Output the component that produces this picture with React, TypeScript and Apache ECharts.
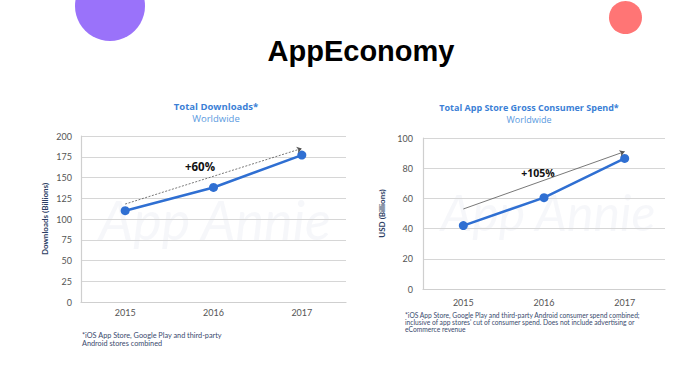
import React, { useEffect, useRef } from "react";
import * as echarts from "echarts";

const years = ["2015", "2016", "2017"];
const downloads = [110, 138, 177];
const spend = [42, 60.5, 86.5];
const downloadsTrend = [118, 185];
const spendTrend = [53, 91];
const downloadsTicks = { min: 0, max: 200, interval: 25 };
const spendTicks = { min: 0, max: 100, interval: 20 };

const BLUE = "#2f6fd2";
const FONT = "Lato, 'Open Sans', sans-serif";
const TFONT = "'Open Sans', Lato, sans-serif";

export default function App() {
  const ref = useRef<HTMLDivElement>(null);
  useEffect(() => {
    if (!ref.current) return;
    const chart = echarts.init(ref.current, undefined, { renderer: "svg" });
    const axisLabel = { color: "#555", fontSize: 9, fontFamily: FONT };
    const gridLine = { show: true, lineStyle: { color: "#d6d6d6", width: 1.2 } };
    const axisLine = { show: true, lineStyle: { color: "#cfcfcf", width: 1.2 } };
    const nameStyle = { color: "#2b3d63", fontSize: 8, fontWeight: "bold" as const, fontFamily: FONT };
    const trendLine = (from: number, to: number, dashed: boolean) => ({
      silent: true,
      symbol: ["none", "arrow"],
      symbolSize: 5,
      label: { show: false },
      lineStyle: { color: "#555", width: 0.8, type: dashed ? [2, 1.5] : "solid" },
      data: [[{ coord: [years[0], from] }, { coord: [years[2], to] }]],
    });
    chart.setOption({
      animation: false,
      backgroundColor: "#ffffff",
      grid: [
        { left: 81, top: 136, width: 265, height: 166 },
        { left: 423, top: 138, width: 242, height: 151 },
      ],
      xAxis: [0, 1].map((i) => ({
        type: "category",
        gridIndex: i,
        data: years,
        boundaryGap: true,
        axisTick: { show: false },
        axisLine,
        axisLabel: { ...axisLabel, margin: i === 0 ? 6 : 9 },
      })),
      yAxis: [
        {
          type: "value",
          gridIndex: 0,
          ...downloadsTicks,
          axisLine,
          splitLine: gridLine,
          axisTick: { show: false },
          axisLabel: { ...axisLabel, margin: 9 },
          name: "Downloads (Billions)",
          nameLocation: "middle",
          nameGap: 32,
          nameTextStyle: nameStyle,
        },
        {
          type: "value",
          gridIndex: 1,
          ...spendTicks,
          axisLine,
          splitLine: gridLine,
          axisTick: { show: false },
          axisLabel: { ...axisLabel, margin: 10 },
          name: "USD (Billions)",
          nameLocation: "middle",
          nameGap: 37,
          nameTextStyle: nameStyle,
        },
      ],
      series: [
        {
          type: "line",
          xAxisIndex: 0,
          yAxisIndex: 0,
          data: downloads,
          symbol: "circle",
          symbolSize: 9,
          lineStyle: { color: BLUE, width: 2.5 },
          itemStyle: { color: BLUE },
          markLine: trendLine(downloadsTrend[0], downloadsTrend[1], true),
        },
        {
          type: "line",
          xAxisIndex: 1,
          yAxisIndex: 1,
          data: spend,
          symbol: "circle",
          symbolSize: 9,
          lineStyle: { color: BLUE, width: 2.5 },
          itemStyle: { color: BLUE },
          markLine: trendLine(spendTrend[0], spendTrend[1], false),
        },
      ],
      graphic: [
        { type: "circle", shape: { cx: 110, cy: 6, r: 35 }, style: { fill: "#9a72fa" }, z: -1 },
        { type: "circle", shape: { cx: 625.5, cy: 17.5, r: 16.5 }, style: { fill: "#ff7575" }, z: -1 },
        {
          type: "text",
          x: 361,
          y: 51,
          style: {
            text: "AppEconomy",
            font: "bold 29px 'Liberation Sans', Arial, sans-serif",
            fill: "#000",
            align: "center",
            verticalAlign: "middle",
          },
        },
        { type: "text", x: 215, y: 219, z: -1, style: { text: "App Annie", font: "italic 54px " + FONT, fill: "rgba(200,208,222,0.16)", align: "center", verticalAlign: "middle" } },
        { type: "text", x: 548, y: 212, z: -1, style: { text: "App Annie", font: "italic 50px " + FONT, fill: "rgba(200,208,222,0.16)", align: "center", verticalAlign: "middle" } },
        { type: "text", x: 216, y: 106, style: { text: "Total Downloads*", font: "bold 9.5px " + TFONT, fill: "#3c7fd6", align: "center", verticalAlign: "middle" } },
        { type: "text", x: 216, y: 118, style: { text: "Worldwide", font: "9.5px " + TFONT, fill: "#5a9ae0", align: "center", verticalAlign: "middle" } },
        { type: "text", x: 529, y: 107, style: { text: "Total App Store Gross Consumer Spend*", font: "bold 9px " + TFONT, fill: "#3c7fd6", align: "center", verticalAlign: "middle" } },
        { type: "text", x: 529, y: 119, style: { text: "Worldwide", font: "9px " + TFONT, fill: "#5a9ae0", align: "center", verticalAlign: "middle" } },
        { type: "text", x: 200, y: 166, style: { text: "+60%", font: "bold 11.5px " + TFONT, fill: "#111", align: "center", verticalAlign: "middle" } },
        { type: "text", x: 538, y: 173, style: { text: "+105%", font: "bold 10.5px " + TFONT, fill: "#111", align: "center", verticalAlign: "middle" } },
        {
          type: "text",
          x: 82,
          y: 331,
          style: {
            text: "*iOS App Store, Google Play and third-party\nAndroid stores combined",
            font: "7.3px " + FONT,
            lineHeight: 8,
            fill: "#3a4a6e",
            align: "left",
            verticalAlign: "top",
          },
        },
        {
          type: "text",
          x: 405,
          y: 311,
          style: {
            text: "*iOS App Store, Google Play and third-party Android consumer spend combined;\ninclusive of app stores' cut of consumer spend. Does not include advertising or\neCommerce revenue",
            font: "6.7px " + FONT,
            lineHeight: 7.3,
            fill: "#3a4a6e",
            align: "left",
            verticalAlign: "top",
          },
        },
      ],
    });
    return () => chart.dispose();
  }, []);
  return (
    <div
      ref={ref}
      style={{ position: "absolute", left: 0, top: 0, width: 685, height: 369 }}
    />
  );
}
